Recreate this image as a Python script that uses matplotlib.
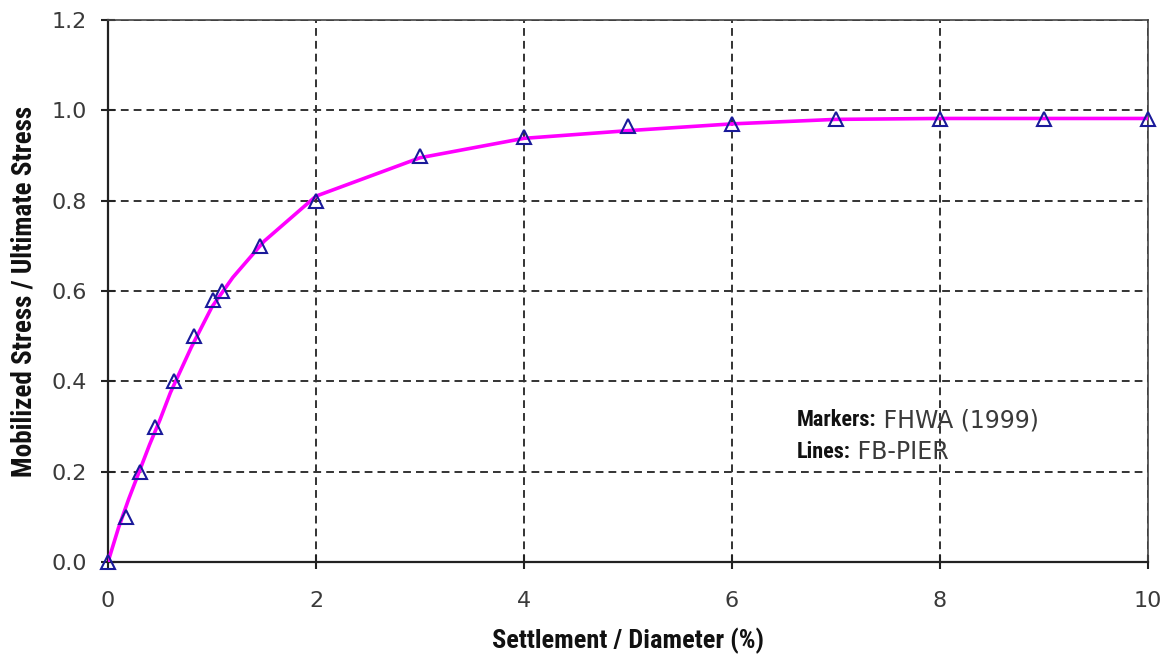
import matplotlib
matplotlib.use("Agg")
import matplotlib.pyplot as plt

# FHWA (1999) markers
marker_x = [0, 0.17, 0.31, 0.45, 0.63, 0.83, 1.01, 1.10, 1.46, 2.0, 3.0, 4.0, 5.0, 6.0, 7.0, 8.0, 9.0, 10.0]
marker_y = [0, 0.10, 0.20, 0.30, 0.40, 0.50, 0.58, 0.60, 0.70, 0.80, 0.90, 0.94, 0.965, 0.97, 0.98, 0.98, 0.98, 0.98]

# FB-PIER line
line_x = [0, 0.1, 0.2, 0.3, 0.4, 0.5, 0.6, 0.8, 1.0, 1.2, 1.5, 2.0, 3.0, 4.0, 5.0, 6.0, 7.0, 8.0, 9.0, 10.0]
line_y = [0, 0.075, 0.14, 0.20, 0.26, 0.315, 0.375, 0.475, 0.565, 0.63, 0.71, 0.81, 0.895, 0.938, 0.955, 0.97, 0.98, 0.982, 0.982, 0.982]

x_ticks = [0, 2, 4, 6, 8, 10]
y_ticks = [0.0, 0.2, 0.4, 0.6, 0.8, 1.0, 1.2]

plt.rcParams['font.family'] = ['DejaVu Sans']

fig = plt.figure(figsize=(11.64, 6.6), dpi=100)
ax = fig.add_axes([108/1164, 1 - 562/660, (1148 - 108)/1164, (562 - 20)/660])

ax.plot(line_x, line_y, color='#FF00FF', lw=2.6, zorder=3)
ax.plot(marker_x, marker_y, linestyle='none', marker='^', markersize=10,
        markerfacecolor='none', markeredgecolor='#1a1a9a', markeredgewidth=1.5, zorder=4, clip_on=False)

ax.set_xlim(0, 10)
ax.set_ylim(0, 1.2)
ax.set_xticks(x_ticks)
ax.set_yticks(y_ticks)
ax.set_xticklabels([str(v) for v in x_ticks])
ax.set_yticklabels([f"{v:.1f}" for v in y_ticks])

ax.grid(True, color='#333333', linestyle=(0, (4, 2.6)), linewidth=1.4)
for s in ['top', 'right']:
    ax.spines[s].set_linewidth(1.2)
    ax.spines[s].set_color('#444444')
for s in ['left', 'bottom']:
    ax.spines[s].set_linewidth(1.6)
    ax.spines[s].set_color('#222222')

ax.tick_params(direction='inout', length=10, width=1.5, labelsize=16,
               colors='#222222', labelcolor='#3a3a3a')
ax.tick_params(axis='x', pad=16)
ax.tick_params(axis='y', pad=10)

cond = ['Roboto Condensed', 'DejaVu Sans']
ax.set_xlabel('Settlement / Diameter (%)', fontsize=19, fontweight='bold', family=cond, labelpad=12, color='#111111')
ax.set_ylabel('Mobilized Stress / Ultimate Stress', fontsize=19.5, fontweight='bold', family=cond, labelpad=10, color='#111111')

t1 = ax.text(6.62, 0.314, 'Markers:', fontsize=16, fontweight='bold', family=cond, va='center', ha='left', color='#111111')
ax.annotate(' FHWA (1999)', xy=(1, 0.5), xycoords=t1, va='center', ha='left', fontsize=17, color='#3a3a3a')
t2 = ax.text(6.62, 0.2435, 'Lines:', fontsize=16, fontweight='bold', family=cond, va='center', ha='left', color='#111111')
ax.annotate(' FB-PIER', xy=(1, 0.5), xycoords=t2, va='center', ha='left', fontsize=17, color='#3a3a3a')

fig.savefig('out.png', dpi=100)
